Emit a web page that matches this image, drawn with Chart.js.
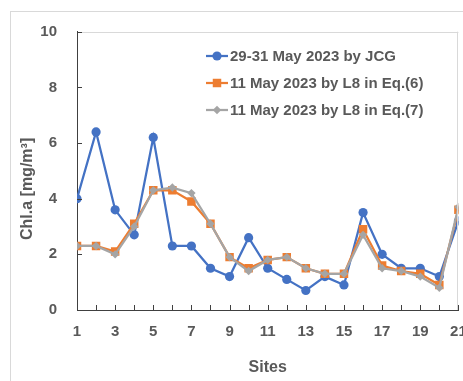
<!DOCTYPE html>
<html>
<head>
<meta charset="utf-8">
<script src="https://cdn.jsdelivr.net/npm/chart.js@4/dist/chart.umd.min.js"></script>
<style>
  html, body { margin: 0; padding: 0; background: #ffffff; overflow: hidden; }
  #wrap { position: relative; width: 463px; height: 381px; overflow: hidden; }
  canvas { display: block; }
</style>
</head>
<body>
<div id="wrap"><canvas id="chart" width="480" height="381"></canvas></div>
<script>
// Sampling sites along the transect
const sites = [1, 2, 3, 4, 5, 6, 7, 8, 9, 10, 11, 12, 13, 14, 15, 16, 17, 18, 19, 20, 21];

// Chl.a concentration [mg/m³] per site
const jcg = [4.0, 6.4, 3.6, 2.7, 6.2, 2.3, 2.3, 1.5, 1.2, 2.6, 1.5, 1.1, 0.7, 1.2, 0.9, 3.5, 2.0, 1.5, 1.5, 1.2, 3.2];
const l8Eq6 = [2.3, 2.3, 2.1, 3.1, 4.3, 4.3, 3.9, 3.1, 1.9, 1.5, 1.8, 1.9, 1.5, 1.3, 1.3, 2.9, 1.6, 1.4, 1.3, 0.9, 3.6];
const l8Eq7 = [2.3, 2.3, 2.0, 3.0, 4.3, 4.4, 4.2, 3.1, 1.9, 1.4, 1.8, 1.9, 1.5, 1.3, 1.3, 2.7, 1.5, 1.4, 1.2, 0.8, 3.7];

const seriesLabels = ['29-31 May 2023 by JCG', '11 May 2023 by L8 in Eq.(6)', '11 May 2023 by L8 in Eq.(7)'];

// Axis settings
const yMin = 0, yMax = 10, yStep = 2;
const xMin = 1, xMax = 21, xStep = 2;
const xTitle = 'Sites';
const yTitle = 'Chl.a [mg/m³]';

const TEXT = '#595959';
const FONT = '"Liberation Sans", Arial, sans-serif';

const pts = vals => sites.map((s, i) => ({ x: s, y: vals[i] }));

// Frame, plot border, inward tick marks, y title and legend
const decor = {
  id: 'decor',
  beforeDraw(chart) {
    const ctx = chart.ctx;
    ctx.save();
    ctx.strokeStyle = '#d9d9d9';
    ctx.lineWidth = 1;
    ctx.strokeRect(10.5, 11.5, 600, 600);
    ctx.restore();
  },
  afterDatasetsDraw(chart) {
    const { ctx, chartArea: a, scales } = chart;
    ctx.save();
    // top and right edges of the plot area
    ctx.strokeStyle = '#d9d9d9';
    ctx.lineWidth = 1;
    ctx.beginPath();
    ctx.moveTo(a.left, Math.round(a.top) + 0.5);
    ctx.lineTo(a.right, Math.round(a.top) + 0.5);
    ctx.moveTo(Math.round(a.right) - 0.5, a.top);
    ctx.lineTo(Math.round(a.right) - 0.5, a.bottom);
    ctx.stroke();
    // inward tick marks
    ctx.strokeStyle = '#404040';
    ctx.beginPath();
    for (const s of sites) {
      const x = Math.round(scales.x.getPixelForValue(s)) + 0.5;
      ctx.moveTo(x, a.bottom);
      ctx.lineTo(x, a.bottom - 5);
    }
    for (let v = yMin; v <= yMax; v += yStep) {
      const y = Math.round(scales.y.getPixelForValue(v)) + 0.5;
      ctx.moveTo(a.left, y);
      ctx.lineTo(a.left + 5, y);
    }
    ctx.stroke();
    ctx.restore();
  },
  afterDraw(chart) {
    const ctx = chart.ctx;
    ctx.save();
    // y axis title
    ctx.font = 'bold 16px ' + FONT;
    ctx.fillStyle = TEXT;
    ctx.textBaseline = 'middle';
    ctx.textAlign = 'left';
    ctx.translate(28, 240);
    ctx.rotate(-Math.PI / 2);
    ctx.fillText(yTitle, 0, 0);
    ctx.restore();

    // legend: line segment with marker, then label
    ctx.save();
    chart.data.datasets.forEach((ds, i) => {
      const y = 56 + i * 27;
      ctx.strokeStyle = ds.borderColor;
      ctx.lineWidth = ds.borderWidth;
      ctx.beginPath();
      ctx.moveTo(206, y);
      ctx.lineTo(228, y);
      ctx.stroke();
      ctx.fillStyle = ds.pointBackgroundColor;
      ctx.strokeStyle = ds.pointBorderColor;
      Chart.helpers.drawPoint(ctx, {
        pointStyle: ds.pointStyle,
        radius: ds.pointRadius,
        rotation: 0,
        borderWidth: 0
      }, 217, y);
      ctx.fillStyle = TEXT;
      ctx.font = 'bold 15px ' + FONT;
      ctx.textBaseline = 'middle';
      ctx.textAlign = 'left';
      ctx.fillText(ds.label, 230, y + 1);
    });
    ctx.restore();
  }
};

const mk = (label, vals, color, style, r, order) => ({
  label,
  data: pts(vals),
  borderColor: color,
  backgroundColor: color,
  pointBackgroundColor: color,
  pointBorderColor: color,
  borderWidth: 2.25,
  pointStyle: style,
  pointRadius: r,
  pointHoverRadius: r,
  pointBorderWidth: 0,
  tension: 0,
  order
});

new Chart(document.getElementById('chart'), {
  type: 'line',
  data: {
    datasets: [
      mk(seriesLabels[0], jcg, '#4472C4', 'circle', 4.6, 2),
      mk(seriesLabels[1], l8Eq6, '#ED7D31', 'rect', 6.0, 1),
      mk(seriesLabels[2], l8Eq7, '#A5A5A5', 'rectRot', 4.2, 0)
    ]
  },
  options: {
    responsive: false,
    animation: false,
    devicePixelRatio: 1,
    layout: { padding: { left: 0, top: 31.7, right: 21.6, bottom: 0 } },
    plugins: { legend: { display: false }, tooltip: { enabled: false } },
    scales: {
      x: {
        type: 'linear',
        min: xMin,
        max: xMax,
        afterFit(s) { s.height = 71; },
        ticks: {
          stepSize: xStep,
          color: TEXT,
          font: { family: FONT, size: 15, weight: 'bold' },
          padding: 13,
          maxRotation: 0
        },
        grid: { display: false, drawTicks: false },
        border: { display: true, color: '#404040', width: 1 },
        title: {
          display: true,
          text: xTitle,
          color: TEXT,
          font: { family: FONT, size: 16, weight: 'bold' },
          padding: { top: 0, bottom: 4 }
        }
      },
      y: {
        min: yMin,
        max: yMax,
        afterFit(s) { s.width = 77; },
        ticks: {
          stepSize: yStep,
          color: TEXT,
          font: { family: FONT, size: 15, weight: 'bold' },
          padding: 20
        },
        grid: { display: false, drawTicks: false },
        border: { display: true, color: '#404040', width: 1 }
      }
    }
  },
  plugins: [decor]
});
</script>
</body>
</html>
